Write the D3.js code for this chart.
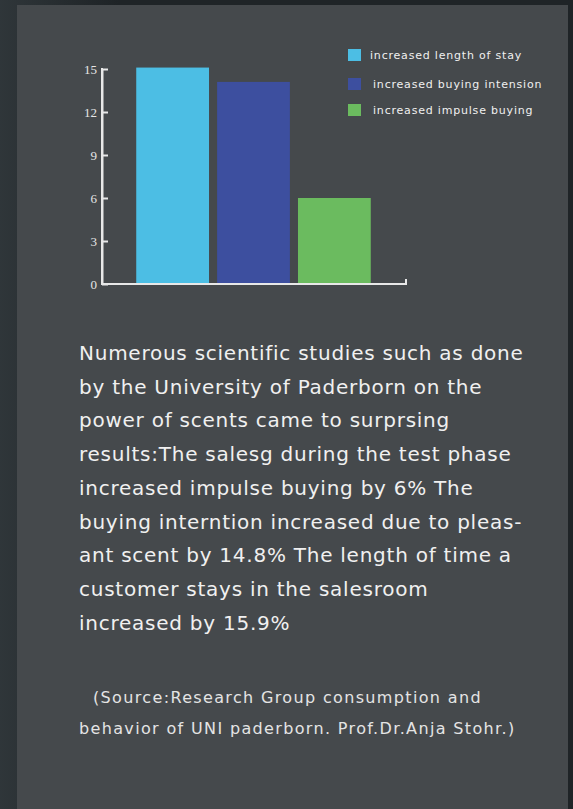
<!DOCTYPE html>
<html>
<head>
<meta charset="utf-8">
<script src="https://cdn.jsdelivr.net/npm/d3@7"></script>
<style>
  html, body { margin: 0; padding: 0; background: #1f2427; }
  svg { display: block; }
</style>
</head>
<body>
<div id="chart"></div>
<script>
const categories = ['increased length of stay', 'increased buying intension', 'increased impulse buying'];
const values = [15.1, 14.1, 6];
const colors = ['#4cbee4', '#3d4f9f', '#6bbb5f'];
const yTicks = [0, 3, 6, 9, 12, 15];

const paragraph = [
  'Numerous scientific studies such as done',
  'by the University of Paderborn on the',
  'power of scents came to surprsing',
  'results:The salesg during the test phase',
  'increased impulse buying by 6% The',
  'buying interntion increased due to pleas-',
  'ant scent by 14.8% The length of time a',
  'customer stays in the salesroom',
  'increased by 15.9%'
];
const source = [
  '(Source:Research Group consumption and',
  'behavior of UNI paderborn. Prof.Dr.Anja Stohr.)'
];

const W = 573, H = 809;
const svg = d3.select('#chart').append('svg')
  .attr('width', W).attr('height', H);

const defs = svg.append('defs');
const grad = defs.append('linearGradient').attr('id', 'side')
  .attr('x1', 0).attr('x2', 1).attr('y1', 0).attr('y2', 0);
grad.append('stop').attr('offset', '0%').attr('stop-color', '#3a4246');
grad.append('stop').attr('offset', '100%').attr('stop-color', '#1d2225');

svg.append('rect').attr('width', W).attr('height', H).attr('fill', '#1f2427');
svg.append('rect').attr('x', 0).attr('y', 0).attr('width', 120).attr('height', H)
  .attr('fill', 'url(#side)').attr('opacity', 0.6);

// main panel
svg.append('rect')
  .attr('x', 17).attr('y', 5)
  .attr('width', 551).attr('height', H - 5)
  .attr('fill', '#45494c');

// chart
const margin = { left: 102, top: 69, right: 406, bottom: 284 };

const y = d3.scaleLinear().domain([0, 15]).range([margin.bottom, margin.top]);
const x = d3.scaleBand()
  .domain(categories)
  .range([margin.left + 31, margin.right - 32])
  .paddingInner(0.1)
  .paddingOuter(0.04);

const g = svg.append('g');

g.selectAll('rect.bar')
  .data(values)
  .enter()
  .append('rect')
  .attr('class', 'bar')
  .attr('x', (d, i) => x(categories[i]))
  .attr('y', d => y(d))
  .attr('width', x.bandwidth())
  .attr('height', d => y(0) - y(d))
  .attr('fill', (d, i) => colors[i]);

const yAxis = g.append('g')
  .attr('transform', `translate(${margin.left},0)`)
  .call(d3.axisRight(y).tickValues(yTicks).tickSize(6).tickSizeOuter(0).tickFormat(d3.format('d')));
yAxis.select('.domain').attr('stroke', '#e8e8e8').attr('stroke-width', 2);
yAxis.selectAll('.tick line').attr('stroke', '#e8e8e8').attr('stroke-width', 2);
yAxis.selectAll('.tick text')
  .attr('x', -5)
  .attr('text-anchor', 'end')
  .attr('fill', '#e6e6e6')
  .style('font-family', '"Liberation Serif", serif')
  .style('font-size', '13px');

const xLine = d3.scaleLinear().domain([0, 1]).range([margin.left, margin.right]);
g.append('path')
  .attr('d', `M${xLine(0)},${y(0)}H${xLine(1)}V${y(0) - 5}`)
  .attr('fill', 'none')
  .attr('stroke', '#e8e8e8')
  .attr('stroke-width', 2);
g.append('line')
  .attr('x1', margin.left).attr('x2', margin.left)
  .attr('y1', y(15) - 1).attr('y2', y(0) + 1)
  .attr('stroke', '#e8e8e8').attr('stroke-width', 2);

// legend
const legendY = [55, 84, 110];
const legend = svg.append('g').attr('transform', 'translate(348,0)');
legend.selectAll('rect')
  .data(categories)
  .enter()
  .append('rect')
  .attr('x', 0)
  .attr('y', (d, i) => legendY[i] - 6)
  .attr('width', 13)
  .attr('height', 12)
  .attr('fill', (d, i) => colors[i]);
legend.selectAll('text')
  .data(categories)
  .enter()
  .append('text')
  .attr('x', (d, i) => i === 0 ? 22 : 25)
  .attr('y', (d, i) => legendY[i])
  .attr('dy', '0.35em')
  .attr('fill', '#f0f0f0')
  .style('font-family', '"DejaVu Sans", sans-serif')
  .style('font-size', '11px')
  .style('letter-spacing', '0.8px')
  .text(d => d);

// paragraph
const txt = svg.append('g')
  .style('font-family', '"DejaVu Sans", sans-serif')
  .attr('fill', '#f0f0f0');
txt.selectAll('text.p')
  .data(paragraph)
  .enter()
  .append('text')
  .attr('class', 'p')
  .attr('x', 79)
  .attr('y', (d, i) => 360 + i * 33.7)
  .style('font-size', '20px')
  .style('letter-spacing', '0.75px')
  .text(d => d);

txt.selectAll('text.s')
  .data(source)
  .enter()
  .append('text')
  .attr('class', 's')
  .attr('x', (d, i) => i === 0 ? 93 : 79)
  .attr('y', (d, i) => 703 + i * 31)
  .style('font-size', '16px')
  .style('letter-spacing', '1.35px')
  .attr('fill', '#e4e4e4')
  .text(d => d);
</script>
</body>
</html>
